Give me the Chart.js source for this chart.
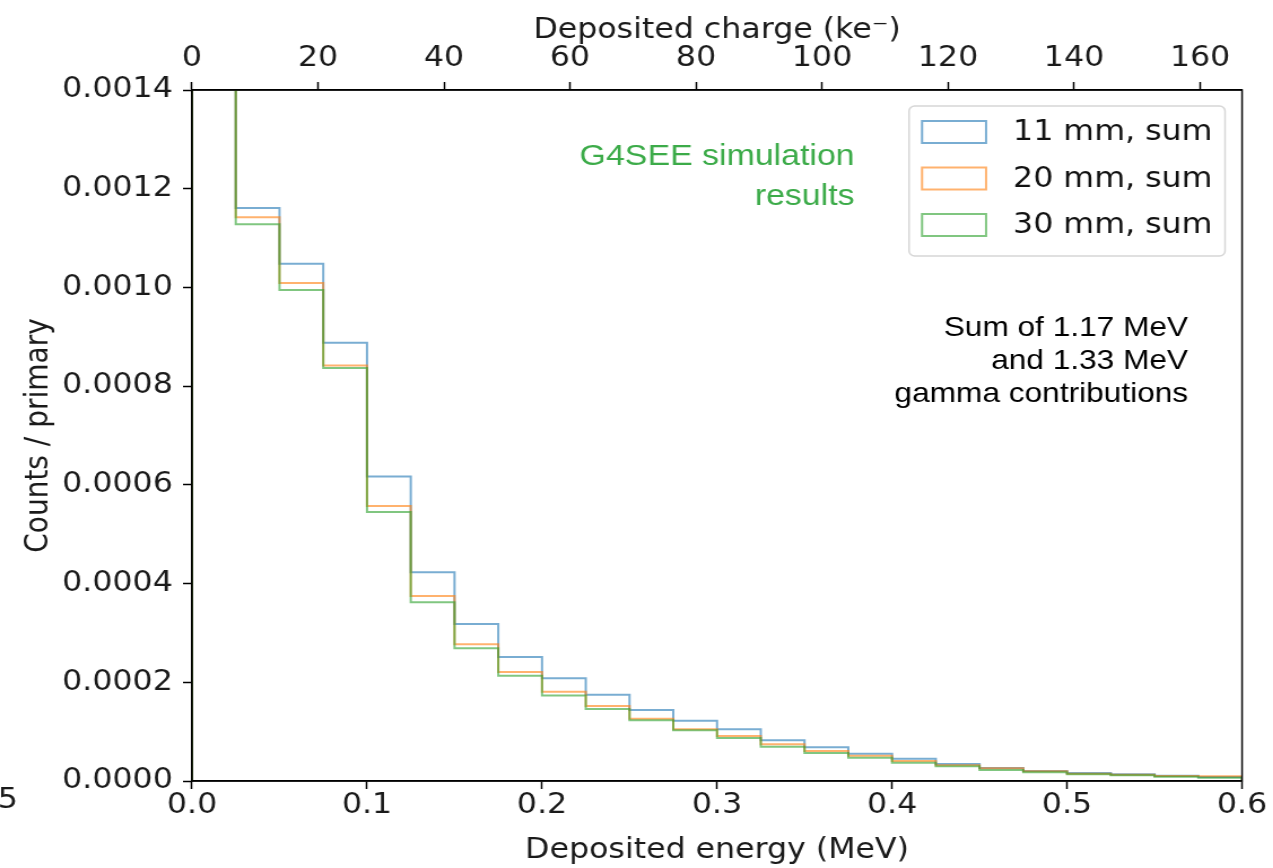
<!DOCTYPE html>
<html>
<head>
<meta charset="utf-8">
<script src="https://cdn.jsdelivr.net/npm/chart.js@4.4.0/dist/chart.umd.min.js"></script>
<style>
  html, body { margin: 0; padding: 0; background: #fff; overflow: hidden; }
  /* the original figure is stretched sideways, so draw narrower and widen it */
  .wrap { width: 1127px; height: 868px; position: relative; transform: scaleX(1.1296); transform-origin: 0 0; }
</style>
</head>
<body>
<div class="wrap"><canvas id="myChart"></canvas></div>
<script>
// bin starts (MeV), bin width 0.025, last edge 0.6
const binStarts = [0, 0.025, 0.05, 0.075, 0.1, 0.125, 0.15, 0.175, 0.2, 0.225, 0.25, 0.275,
  0.3, 0.325, 0.35, 0.375, 0.4, 0.425, 0.45, 0.475, 0.5, 0.525, 0.55, 0.575]
const lastEdge = 0.6

// counts / primary, first bin is off the top of the plot
const sum11mm = [0.0045, 0.001161, 0.001048, 0.000888, 0.000617, 0.000423, 0.000318, 0.000251,
  0.000208, 0.000175, 0.000144, 0.000122, 0.000105, 0.0000824, 0.0000683, 0.0000553,
  0.0000452, 0.0000344, 0.0000263, 0.0000203, 0.0000162, 0.0000135, 0.0000108, 0.0000081]
const sum20mm = [0.0045, 0.001142, 0.001009, 0.000842, 0.000557, 0.000375, 0.000277, 0.000221,
  0.000181, 0.000152, 0.000126, 0.000105, 0.0000912, 0.0000743, 0.0000608, 0.0000513,
  0.0000405, 0.0000318, 0.0000257, 0.0000196, 0.0000149, 0.0000128, 0.0000101, 0.0000095]
const sum30mm = [0.0045, 0.001128, 0.000995, 0.000837, 0.000545, 0.000362, 0.000269, 0.000213,
  0.000173, 0.000146, 0.000123, 0.000103, 0.0000871, 0.0000695, 0.0000567, 0.0000472,
  0.0000371, 0.0000297, 0.0000223, 0.0000176, 0.0000135, 0.0000115, 0.0000088, 0.0000068]

const seriesLabels = ['11 mm, sum', '20 mm, sum', '30 mm, sum']
const energyTicks = [0, 0.1, 0.2, 0.3, 0.4, 0.5, 0.6]
const chargeTicks = [0, 20, 40, 60, 80, 100, 120, 140, 160]
const countTicks = [0, 0.0002, 0.0004, 0.0006, 0.0008, 0.0010, 0.0012, 0.0014]
const eVPerPair = 3.6 // ke- per MeV = 1000 / 3.6

const S = 1.1296 // horizontal stretch of the page
const colors = ['rgba(31,119,180,0.6)', 'rgba(255,127,14,0.6)', 'rgba(44,160,44,0.6)']
const tickFont = { family: 'DejaVu Sans', size: 28 }

// matplotlib 'step' outline: up at first edge, across each bin, down at the last edge
const stepPoints = (values) => {
  const pts = [{ x: binStarts[0], y: 0 }]
  binStarts.forEach((x, i) => pts.push({ x: x, y: values[i] }))
  pts.push({ x: lastEdge, y: values[values.length - 1] })
  pts.push({ x: lastEdge, y: 0 })
  return pts
}

const allSeries = [sum11mm, sum20mm, sum30mm]
const datasets = allSeries.map((vals, i) => ({
  label: seriesLabels[i],
  data: stepPoints(vals),
  borderColor: colors[i],
  backgroundColor: colors[i],
  borderWidth: 2,
  pointRadius: 0,
  stepped: 'before',
  fill: false,
  order: allSeries.length - i
}))

const overlay = {
  id: 'overlay',
  afterDatasetsDraw(chart) {
    const c = chart.ctx
    const a = chart.chartArea
    c.save()
    // frame
    c.strokeStyle = '#000'
    c.lineWidth = 1.5
    c.strokeRect(a.left, a.top, a.right - a.left, a.bottom - a.top)

    // legend
    const lx = a.right - 333 / S, ly = a.top + 16, lw = 316 / S, lh = 150
    c.beginPath()
    c.roundRect(lx, ly, lw, lh, 5)
    c.fillStyle = 'rgba(255,255,255,0.8)'
    c.fill()
    c.strokeStyle = '#d6d6d6'
    c.lineWidth = 1.5
    c.stroke()
    c.font = '28px "DejaVu Sans"'
    c.textBaseline = 'middle'
    c.textAlign = 'left'
    chart.data.datasets.forEach((ds, i) => {
      const cy = ly + 26 + i * 46.5
      c.strokeStyle = ds.borderColor
      c.lineWidth = 2
      c.strokeRect(lx + 13 / S, cy - 11, 64 / S, 22)
      c.fillStyle = '#111'
      c.fillText(ds.label, lx + 104 / S, cy + 1)
    })

    const w = a.right - a.left, h = a.bottom - a.top
    // green annotation
    c.textAlign = 'right'
    c.fillStyle = '#3cab49'
    c.font = '30px "Liberation Sans"'
    c.fillText('G4SEE simulation', a.left + 0.631 * w, a.bottom - 0.903 * h)
    c.fillText('results', a.left + 0.631 * w, a.bottom - 0.845 * h)
    // black annotation
    c.fillStyle = '#000'
    c.font = '28px "Liberation Sans"'
    const notes = ['Sum of 1.17 MeV', 'and 1.33 MeV', 'gamma contributions']
    notes.forEach((t, i) => c.fillText(t, a.left + 0.9486 * w, a.bottom - (0.6556 - i * 0.0477) * h))

    // clipped tick fragment at the far left
    c.textAlign = 'left'
    c.font = '28px "DejaVu Sans"'
    c.fillStyle = '#1a1a1a'
    c.fillText('5', -2, a.bottom + 20)
    c.restore()
  }
}

const axisCommon = {
  grid: { display: true, drawOnChartArea: false, drawTicks: true, tickLength: 8, tickWidth: 1.5, tickColor: '#000' },
  border: { display: true, color: '#000', width: 1.5 }
}

const ctx = document.getElementById('myChart').getContext('2d')
new Chart(ctx, {
  type: 'line',
  data: { datasets: datasets },
  plugins: [overlay],
  options: {
    responsive: true,
    maintainAspectRatio: false,
    animation: false,
    devicePixelRatio: 1,
    layout: { padding: { left: 0, right: 31 / S, top: 0, bottom: 0 } },
    plugins: { legend: { display: false }, tooltip: { enabled: false } },
    scales: {
      x: {
        type: 'linear', position: 'bottom', min: 0, max: lastEdge,
        ...axisCommon,
        afterBuildTicks: (s) => { s.ticks = energyTicks.map(v => ({ value: v })) },
        afterFit: (s) => { s.height = 87 },
        ticks: { font: tickFont, color: '#1a1a1a', padding: 0, maxRotation: 0, callback: (v) => v.toFixed(1) },
        title: { display: true, text: 'Deposited energy (MeV)', font: tickFont, color: '#1a1a1a', padding: { top: 0, bottom: 0 } }
      },
      x2: {
        type: 'linear', position: 'top', min: 0, max: lastEdge * 1000 / eVPerPair,
        ...axisCommon,
        afterBuildTicks: (s) => { s.ticks = chargeTicks.map(v => ({ value: v })) },
        afterFit: (s) => { s.height = 90 },
        ticks: { font: tickFont, color: '#1a1a1a', padding: 6, maxRotation: 0 },
        title: { display: true, text: 'Deposited charge (ke\u207B)', font: tickFont, color: '#1a1a1a', padding: { top: 14, bottom: 0 } }
      },
      y: {
        type: 'linear', position: 'left', min: 0, max: 0.0014,
        ...axisCommon,
        afterBuildTicks: (s) => { s.ticks = countTicks.map(v => ({ value: v })) },
        afterFit: (s) => { s.width = 192 / S },
        ticks: { font: tickFont, color: '#1a1a1a', padding: 9, callback: (v) => v.toFixed(4) },
        title: { display: true, text: 'Counts / primary', font: tickFont, color: '#1a1a1a', padding: { top: 18, bottom: 0 } }
      }
    }
  }
})
</script>
</body>
</html>
